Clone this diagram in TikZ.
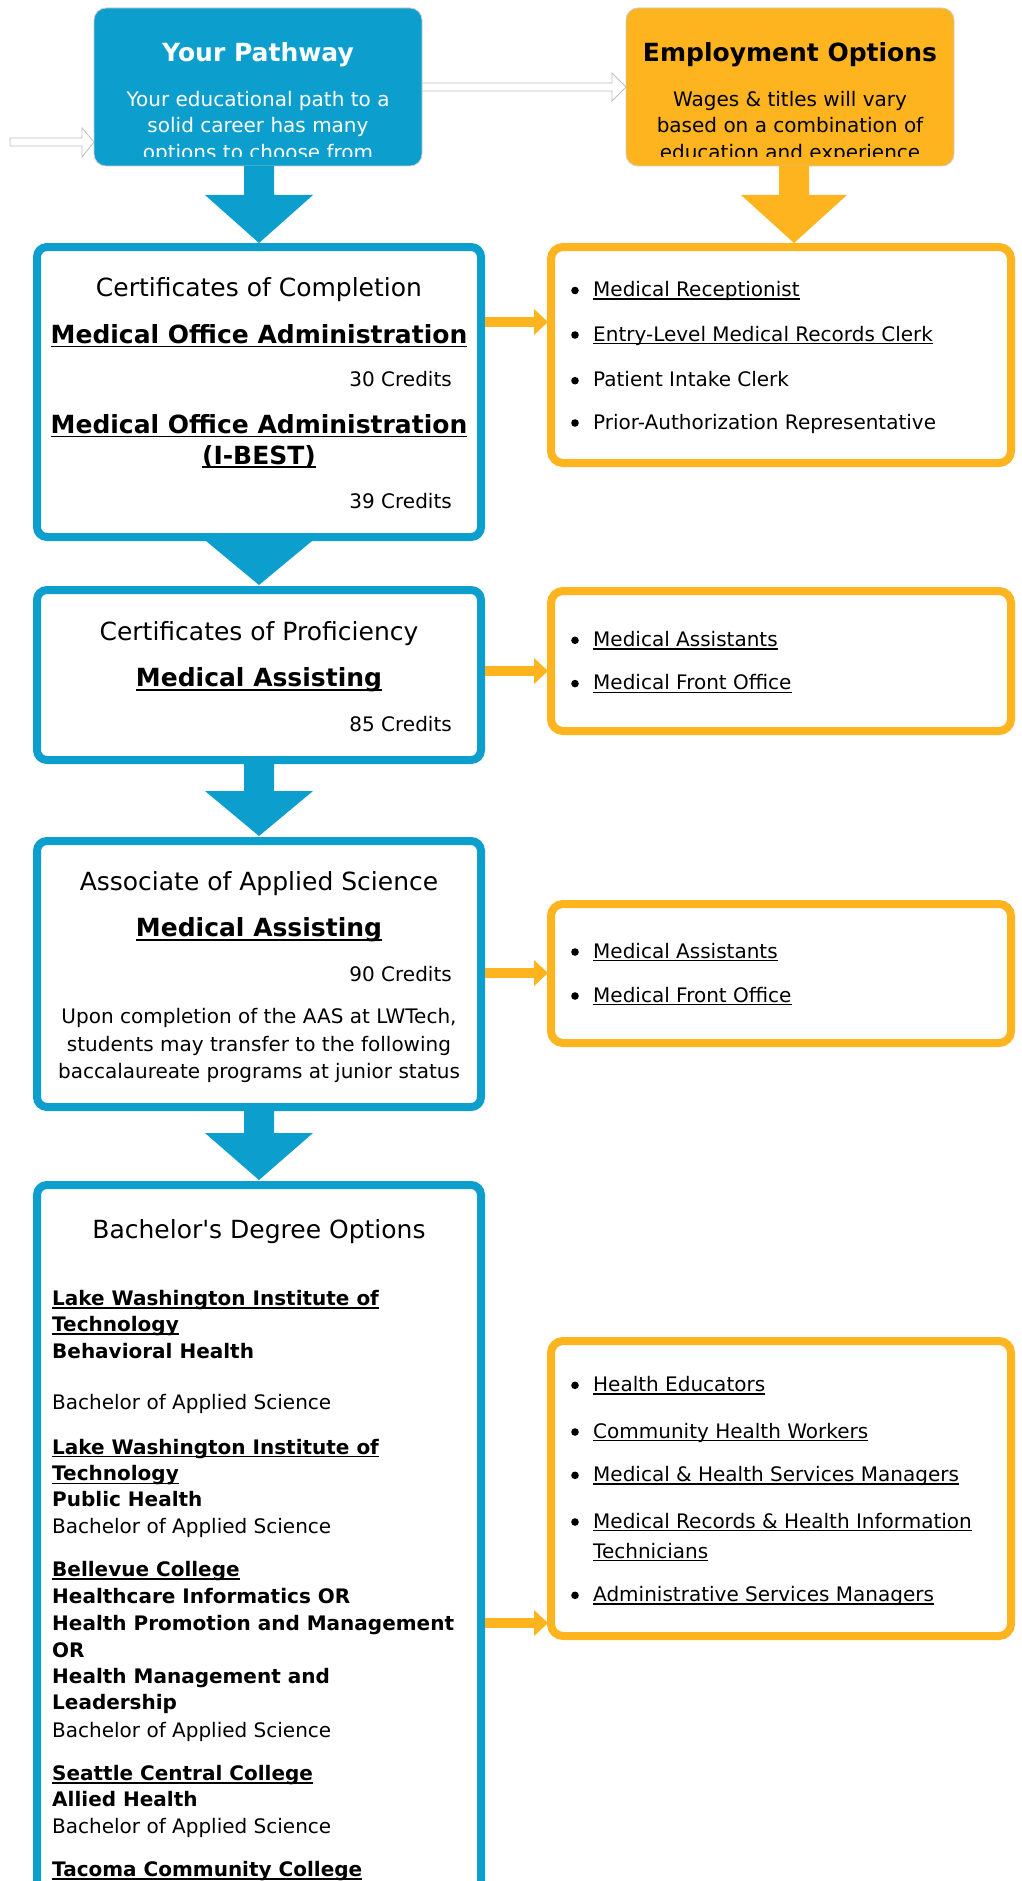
\documentclass[tikz,border=0pt]{standalone}
\usepackage{fontspec}
\setmainfont{DejaVu Sans}
\usetikzlibrary{calc}
\definecolor{pblue}{HTML}{0C9FCE}
\definecolor{porange}{HTML}{FDB41E}
\newsavebox{\ulbx}
\newcommand{\myul}[1]{\sbox{\ulbx}{#1}\rlap{\rule[-0.17em]{\wd\ulbx}{0.075em}}\usebox{\ulbx}}
\newcommand{\olitem}[3]{\fill (575,#2-6) circle (3.8); \node[txt, anchor=base west] (#1) at (593,#2) {#3};}
\tikzset{
  bx/.style={rectangle, rounded corners=10, line width=8, outer sep=0pt, inner sep=0pt, fill=white},
  bbx/.style={bx, draw=pblue},
  obx/.style={bx, draw=porange, rounded corners=12},
  topbx/.style={rectangle, rounded corners=12, outer sep=0pt, inner sep=0pt, minimum width=328, minimum height=158, draw=black!20, line width=0.8},
  txt/.style={inner sep=0pt, anchor=base, font=\fontsize{20}{24}\selectfont},
  txtb/.style={txt, font=\fontsize{20}{24}\selectfont\bfseries},
  ltxt/.style={txt, anchor=base west},
  ltxtb/.style={txtb, anchor=base west},
  hd/.style={inner sep=0pt, anchor=base, font=\fontsize{25}{30}\selectfont},
  hdb/.style={hd, font=\fontsize{25}{30}\selectfont\bfseries},
  hollow/.style={fill=white, draw=black!25, line width=0.8, line join=miter},
  oarrow/.pic={\fill[porange] (0,-5) rectangle (50,5); \fill[porange] (49,-13) -- (63,0) -- (49,13) -- cycle;}
}
\begin{document}
\begin{tikzpicture}[x=1pt,y=-1pt]
\useasboundingbox (0,0) rectangle (1022,1881);
\clip (0,0) rectangle (1022,1881);
\fill[white] (0,0) rectangle (1022,1881);

% top boxes (positions needed for hollow arrows)
\path (258,87) coordinate (pwc) (790,87) coordinate (empc);
\coordinate (lst) at (10,142);
\draw[hollow] (lst) ++(0,-4) -- ++(72,0) -- ++(0,-10) -- ($(pwc)+(-164,55)$) -- ++(-12,15) -- ++(0,-11) -- ++(-72,0) -- cycle;
\draw[hollow] ($(pwc)+(160,-4)$) -- ++(194,0) -- ++(0,-10) -- ($(empc)+(-164,0)$) -- ++(-14,14) -- ++(0,-10) -- ++(-194,0);

\node[topbx, fill=pblue] (pw) at (pwc) {};
\node[topbx, fill=porange] (emp) at (empc) {};

\begin{scope}
\clip (pw.north west) rectangle ($(pw.south east)+(0,-9.3)$);
\node[hdb, text=white] (pwh) at (258,61.5) {Your Pathway};
\node[txt, text=white] (pw1) at (258,106.3) {Your educational path to a};
\node[txt, text=white] (pw2) at (258,133) {solid career has many};
\node[txt, text=white] (pw3) at (258,159.5) {options to choose from};
\end{scope}
\begin{scope}
\clip (emp.north west) rectangle ($(emp.south east)+(0,-9.3)$);
\node[hdb] (emph) at (790,61.5) {Employment Options};
\node[txt] (emp1) at (790,106.3) {Wages \& titles will vary};
\node[txt] (emp2) at (790,133) {based on a combination of};
\node[txt] (emp3) at (790,159.5) {education and experience};
\end{scope}

% pathway boxes
\node[bbx, minimum width=444, minimum height=290] (c1) at (259,392) {};
\node[bbx, minimum width=444, minimum height=170] (c2) at (259,675) {};
\node[bbx, minimum width=444, minimum height=266] (c3) at (259,974) {};
\node[bbx, minimum width=444, minimum height=760] (c4) at (259,1565) {};

% employment boxes
\node[obx, minimum width=460, minimum height=216] (o1) at (781,355) {};
\node[obx, minimum width=460, minimum height=140] (o2) at (781,661) {};
\node[obx, minimum width=460, minimum height=139] (o3) at (781,973.5) {};
\node[obx, minimum width=460, minimum height=295] (o4) at (781,1488.5) {};

% block arrows
\fill[pblue] ($(pw.south)+(-14,0)$) -- ++(30,0) -- ++(0,29) -- ++(39,0) -- ($(c1.north)+(0,-4)$) -- ++(-54,-48) -- ++(39,0) -- cycle;
\fill[porange] ($(emp.south)+(-11,0)$) -- ++(30,0) -- ++(0,29) -- ++(38,0) -- ($(o1.north)+(13,-4)$) -- ++(-53,-48) -- ++(38,0) -- cycle;
\fill[pblue] ($(c1.south)+(-53,4)$) -- ++(106,0) -- ($(c2.north)+(0,-5)$) -- cycle;
\fill[pblue] ($(c2.south)+(-15,4)$) -- ++(30,0) -- ++(0,27) -- ++(39,0) -- ($(c3.north)+(0,-5)$) -- ++(-54,-45) -- ++(39,0) -- cycle;
\fill[pblue] ($(c3.south)+(-15,4)$) -- ++(30,0) -- ++(0,22) -- ++(39,0) -- ($(c4.north)+(0,-5)$) -- ++(-54,-47) -- ++(39,0) -- cycle;

% small arrows to employment boxes
\pic (a1) at ($(c1.east)+(4,-70)$) {oarrow};
\pic (a2) at ($(c2.east)+(4,-4)$) {oarrow};
\pic (a3) at ($(c3.east)+(4,-1)$) {oarrow};
\pic (a4) at ($(c4.east)+(4,58)$) {oarrow};

% box 1 text
\node[hd] (c1a) at (259,296.5) {Certificates of Completion};
\node[hdb] (c1b) at (259,343.2) {\myul{Medical Office Administration}};
\node[txt, anchor=base east] (c1c) at (452,386.7) {30 Credits};
\node[hdb] (c1d) at (259,433.2) {\myul{Medical Office Administration}};
\node[hdb] (c1e) at (259,464) {\myul{(I-BEST)}};
\node[txt, anchor=base east] (c1f) at (452,508) {39 Credits};

% box 2 text
\node[hd] (c2a) at (259,640) {Certificates of Proficiency};
\node[hdb] (c2b) at (259,686.5) {\myul{Medical Assisting}};
\node[txt, anchor=base east] (c2c) at (452,731.3) {85 Credits};

% box 3 text
\node[hd] (c3a) at (259,890) {Associate of Applied Science};
\node[hdb] (c3b) at (259,936.5) {\myul{Medical Assisting}};
\node[txt, anchor=base east] (c3c) at (452,981.3) {90 Credits};
\node[txt] (c3d) at (259,1023.6) {Upon completion of the AAS at LWTech,};
\node[txt] (c3e) at (259,1051.3) {students may transfer to the following};
\node[txt] (c3f) at (259,1078.5) {baccalaureate programs at junior status};

% box 4 text
\node[hd] (c4a) at (259,1238.2) {Bachelor\textquotesingle s Degree Options};
\node[ltxtb] (c4b) at (52,1305.3) {\myul{Lake Washington Institute of}};
\node[ltxtb] (c4c) at (52,1331.3) {\myul{Technology}};
\node[ltxtb] (c4d) at (52,1358) {Behavioral Health};
\node[ltxt] (c4e) at (52,1409.6) {Bachelor of Applied Science};
\node[ltxtb] (c4f) at (52,1454) {\myul{Lake Washington Institute of}};
\node[ltxtb] (c4g) at (52,1480.6) {\myul{Technology}};
\node[ltxtb] (c4h) at (52,1506.3) {Public Health};
\node[ltxt] (c4i) at (52,1533) {Bachelor of Applied Science};
\node[ltxtb] (c4j) at (52,1576.3) {\myul{Bellevue College}};
\node[ltxtb] (c4k) at (52,1603) {Healthcare Informatics OR};
\node[ltxtb] (c4l) at (52,1630.3) {Health Promotion and Management};
\node[ltxtb] (c4m) at (52,1657) {OR};
\node[ltxtb] (c4n) at (52,1683) {Health Management and};
\node[ltxtb] (c4o) at (52,1709.6) {Leadership};
\node[ltxt] (c4p) at (52,1737) {Bachelor of Applied Science};
\node[ltxtb] (c4q) at (52,1780.3) {\myul{Seattle Central College}};
\node[ltxtb] (c4r) at (52,1806.3) {Allied Health};
\node[ltxt] (c4s) at (52,1833.6) {Bachelor of Applied Science};
\node[ltxtb] (c4t) at (52,1876.3) {\myul{Tacoma Community College}};

% employment lists
\olitem{o1a}{296.5}{\myul{Medical Receptionist}}
\olitem{o1b}{341}{\myul{Entry-Level Medical Records Clerk}}
\olitem{o1c}{386.7}{Patient Intake Clerk}
\olitem{o1d}{429}{Prior-Authorization Representative}
\olitem{o2a}{646.3}{\myul{Medical Assistants}}
\olitem{o2b}{689.6}{\myul{Medical Front Office}}
\olitem{o3a}{958}{\myul{Medical Assistants}}
\olitem{o3b}{1002}{\myul{Medical Front Office}}
\olitem{o4a}{1391.3}{\myul{Health Educators}}
\olitem{o4b}{1438}{\myul{Community Health Workers}}
\olitem{o4c}{1481.3}{\myul{Medical \& Health Services Managers}}
\olitem{o4d}{1528}{\myul{Medical Records \& Health Information}}
\node[ltxt] (o4e) at (593,1558) {\myul{Technicians}};
\olitem{o4f}{1601.3}{\myul{Administrative Services Managers}}
\end{tikzpicture}
\end{document}
